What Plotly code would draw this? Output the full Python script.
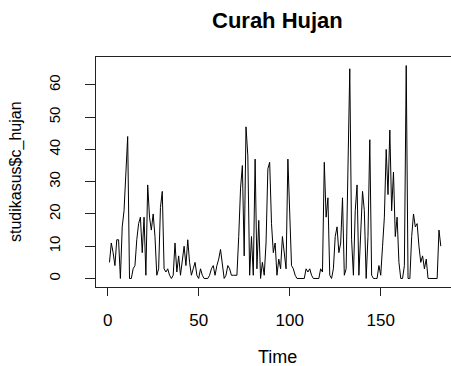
import plotly.graph_objects as go

# Curah hujan (rainfall) series, time index 1..183
c_hujan = [
    5, 11, 8, 4, 12, 12, 0, 16, 21, 33,
    44, 0, 0, 3, 4, 12, 17, 19, 8, 19,
    1, 29, 19, 15, 20, 13, 1, 3, 22, 27,
    3, 2, 3, 1, 0, 1, 11, 2, 7, 1,
    6, 10, 4, 12, 5, 1, 3, 5, 1, 0,
    3, 1, 0, 0, 0, 1, 3, 4, 1, 4,
    6, 9, 4, 0, 1, 4, 3, 1, 1, 1,
    1, 13, 28, 35, 7, 47, 38, 1, 13, 1,
    37, 3, 18, 0, 5, 1, 11, 34, 36, 17,
    8, 11, 1, 6, 3, 13, 8, 3, 37, 19,
    4, 3, 1, 0, 0, 0, 0, 0, 3, 2,
    3, 1, 0, 0, 0, 0, 3, 2, 36, 19,
    25, 1, 0, 3, 13, 16, 8, 11, 25, 1,
    3, 35, 65, 12, 1, 21, 29, 1, 17, 27,
    21, 0, 13, 43, 1, 0, 0, 0, 4, 1,
    10, 19, 40, 26, 46, 21, 33, 13, 19, 5,
    0, 0, 4, 66, 0, 0, 13, 20, 16, 17,
    10, 5, 7, 3, 6, 0, 0, 0, 0, 0,
    0, 15, 10,
]
time_index = list(range(1, len(c_hujan) + 1))
x_ticks = [0, 50, 100, 150]
y_ticks = [0, 10, 20, 30, 40, 50, 60]

FONT = "Liberation Sans, Arial, sans-serif"

fig = go.Figure(
    go.Scatter(x=time_index, y=c_hujan, mode="lines",
               line=dict(color="black", width=1), hoverinfo="skip")
)

fig.update_layout(
    width=451, height=366,
    margin=dict(l=96, r=0, t=57, b=79),
    paper_bgcolor="white", plot_bgcolor="white",
    showlegend=False,
    font=dict(family=FONT, color="black", size=16),
)

fig.update_xaxes(
    range=[-6.4, 188.6], tickvals=x_ticks, ticktext=[str(v) for v in x_ticks],
    showgrid=False, zeroline=False,
    showline=True, mirror=True, linecolor="#222", linewidth=1,
    ticks="outside", ticklen=8, tickcolor="#222", tickwidth=1,
    tickfont=dict(size=17), ticklabelstandoff=10,
)
fig.update_yaxes(
    range=[-2.64, 68.64], tickvals=y_ticks, ticktext=[str(v) for v in y_ticks],
    showgrid=False, zeroline=False,
    showline=True, mirror=False, linecolor="#222", linewidth=1,
    ticks="outside", ticklen=10, tickcolor="#222", tickwidth=1,
    tickangle=-90, tickfont=dict(size=15), ticklabelstandoff=19,
)

fig.add_annotation(text="<b>Curah Hujan</b>", xref="paper", yref="paper",
                   x=0.5, y=1, yshift=37, xshift=4, showarrow=False,
                   xanchor="center", yanchor="middle",
                   font=dict(size=22, family=FONT))
fig.add_annotation(text="Time", xref="paper", yref="paper",
                   x=0.5, y=0, yshift=-70, xshift=4, showarrow=False,
                   xanchor="center", yanchor="middle",
                   font=dict(size=18, family=FONT))
fig.add_annotation(text="studikasus$c_hujan", xref="paper", yref="paper",
                   x=0, y=0.5, xshift=-80, showarrow=False, textangle=-90,
                   xanchor="center", yanchor="middle",
                   font=dict(size=16, family=FONT))

fig.write_html("out.html")
